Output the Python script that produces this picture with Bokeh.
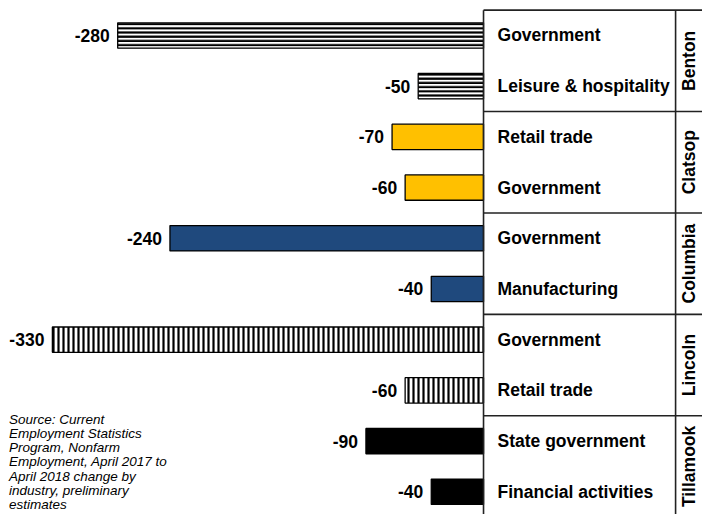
from bokeh.plotting import figure
from bokeh.models import Range1d
from bokeh.core.properties import value
from bokeh.embed import file_html
from bokeh.resources import INLINE

counties = ["Benton", "Clatsop", "Columbia", "Lincoln", "Tillamook"]
industries = [
    ["Government", "Leisure & hospitality"],
    ["Retail trade", "Government"],
    ["Government", "Manufacturing"],
    ["Government", "Retail trade"],
    ["State government", "Financial activities"],
]
changes = [
    [-280, -50],
    [-70, -60],
    [-240, -40],
    [-330, -60],
    [-90, -40],
]
fills = ["white", "#FFC000", "#1F497D", "white", "black"]
hatches = ["horizontal_line", None, None, "vertical_line", None]
hatch_scales = [4.2, 12, 12, 5.0, 12]
source_lines = [
    "Source: Current",
    "Employment Statistics",
    "Program, Nonfarm",
    "Employment, April 2017 to",
    "April 2018 change by",
    "industry, preliminary",
    "estimates",
]

X_MIN, X_MAX = -369.7, 167.6
COUNTY_SEP = 147.0
COUNTY_X = 156.9

p = figure(width=702, height=514, output_backend="svg", toolbar_location=None,
           x_range=Range1d(X_MIN, X_MAX), y_range=Range1d(9.448, -0.690),
           min_border=0, outline_line_color=None)
p.axis.visible = False
p.grid.visible = False
p.xaxis.visible = False
p.yaxis.visible = False

FONT = value("Liberation Sans")
n = len(counties)
for g in range(n):
    ys = [2 * g, 2 * g + 1]
    kw = dict(y=ys, left=changes[g], right=[0, 0], height=0.5,
              fill_color=fills[g], line_color="black", line_width=1.3)
    if hatches[g]:
        kw.update(hatch_pattern=hatches[g], hatch_color="black",
                  hatch_scale=hatch_scales[g], hatch_weight=2.2)
    p.hbar(**kw)
    p.text(x=changes[g], y=ys, text=[str(v) for v in changes[g]],
           x_offset=-8, text_align="right", text_baseline="middle",
           text_font=FONT, text_font_style="bold", text_font_size="17.5px",
           text_color="black")
    p.text(x=[0, 0], y=ys, text=industries[g], x_offset=14,
           text_align="left", text_baseline="middle",
           text_font=FONT, text_font_style="bold", text_font_size="17.5px",
           text_color="black")
    p.text(x=[COUNTY_X], y=[2 * g + 0.5], text=[counties[g]], angle=1.5708,
           text_align="center", text_baseline="middle",
           text_font=FONT, text_font_style="bold", text_font_size="17.5px",
           text_color="black")

# group separators
sep_y = [2 * g - 0.5 for g in range(n)]
p.segment(x0=[0] * n, x1=[X_MAX] * n, y0=sep_y, y1=sep_y,
          line_color="#222222", line_width=1.6)
p.segment(x0=[0, COUNTY_SEP], x1=[0, COUNTY_SEP], y0=[-0.5, -0.5], y1=[10, 10],
          line_color="#222222", line_width=1.6)

src_y = [7.57 + 0.28 * i for i in range(len(source_lines))]
p.text(x=[X_MIN + 6.5] * len(source_lines), y=src_y, text=source_lines,
       text_align="left", text_baseline="alphabetic",
       text_font=FONT, text_font_style="italic", text_font_size="13.5px",
       text_color="black")

open("out.html", "w").write(file_html(p, INLINE))
